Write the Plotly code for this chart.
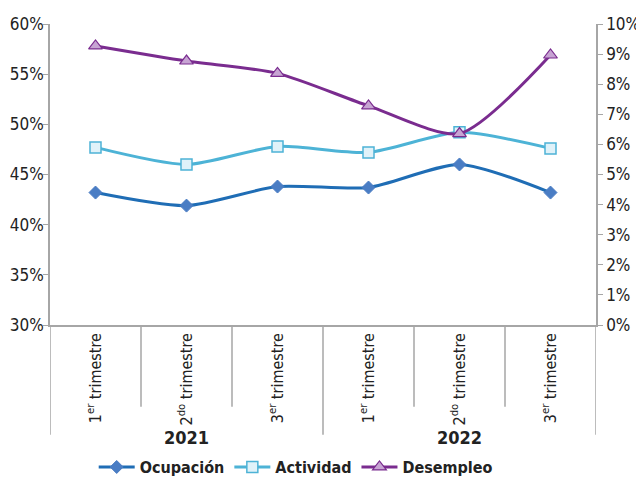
import plotly.graph_objects as go

# Datos
trimestres = ["1<sup>er</sup> trimestre", "2<sup>do</sup> trimestre", "3<sup>er</sup> trimestre",
              "1<sup>er</sup> trimestre", "2<sup>do</sup> trimestre", "3<sup>er</sup> trimestre"]
anios = ["2021", "2022"]
ocupacion = [43.2, 41.9, 43.8, 43.7, 46.0, 43.2]
actividad = [47.7, 46.0, 47.8, 47.2, 49.2, 47.6]
desempleo = [9.27, 8.77, 8.36, 7.28, 6.36, 8.97]

FONT = "DejaVu Sans Condensed, Liberation Sans Narrow, Arial Narrow, sans-serif"
AXIS = "#a6a6a6"
x = list(range(len(trimestres)))

fig = go.Figure()

fig.add_trace(go.Scatter(
    x=x, y=ocupacion, name="Ocupación", mode="lines+markers",
    line=dict(color="#1f6db5", width=3, shape="spline", smoothing=0.7),
    marker=dict(symbol="diamond", size=10, color="#4a7dc4", line=dict(color="#4a7dc4", width=1))
))
fig.add_trace(go.Scatter(
    x=x, y=actividad, name="Actividad", mode="lines+markers",
    line=dict(color="#4db3d6", width=3, shape="spline", smoothing=0.7),
    marker=dict(symbol="square", size=11, color="#e0f2f9", line=dict(color="#4db3d6", width=1.5))
))
fig.add_trace(go.Scatter(
    x=x, y=desempleo, name="Desempleo", mode="lines+markers", yaxis="y2",
    line=dict(color="#7a2c8f", width=3, shape="spline", smoothing=0.7),
    marker=dict(symbol="triangle-up", size=12, color="#c7a4d3", line=dict(color="#7a2c8f", width=1.2))
))

# divisores del eje de categorías
shapes = []
n = len(trimestres)
for i in range(n + 1):
    largo = i % 3 == 0
    shapes.append(dict(type="line", xref="x", yref="paper", x0=i - 0.5, x1=i - 0.5,
                       y0=0, y1=-0.365 if largo else -0.272,
                       line=dict(color=AXIS, width=1.5)))

annotations = []
for j, a in enumerate(anios):
    annotations.append(dict(text="<b>" + a + "</b>", x=j * 3 + 1, xref="x", y=-0.375, yref="paper",
                            showarrow=False, yanchor="middle", font=dict(family=FONT, size=18, color="#222")))

# la página añade 8 px de margen al cuerpo
fig.update_layout(
    width=636, height=477,
    margin=dict(l=42, r=48, t=16, b=160, autoexpand=False),
    plot_bgcolor="white", paper_bgcolor="white",
    font=dict(family=FONT, size=17, color="#222"),
    showlegend=True,
    legend=dict(orientation="h", x=0.45, xanchor="center", y=-0.472, yanchor="middle",
                font=dict(family=FONT, size=16, color="#222", weight="bold"),
                itemwidth=36, tracegroupgap=0),
    xaxis=dict(tickvals=x, ticktext=trimestres, tickangle=-90, range=[-0.5, n - 0.5],
               showline=True, linecolor=AXIS, linewidth=1.5, ticks="", showgrid=False,
               zeroline=False, tickfont=dict(size=16), automargin=False),
    yaxis=dict(range=[30, 60], dtick=5, ticksuffix="%", showline=True, linecolor=AXIS, linewidth=1.5,
               ticks="outside", ticklen=5, tickcolor=AXIS, showgrid=False, zeroline=False,
               automargin=False, ticklabelstandoff=-4),
    yaxis2=dict(range=[0, 10], dtick=1, ticksuffix="%", overlaying="y", side="right",
                showline=True, linecolor=AXIS, linewidth=1.5, ticks="outside", ticklen=5,
                tickcolor=AXIS, showgrid=False, zeroline=False, automargin=False),
    shapes=shapes, annotations=annotations,
)

fig.write_html("out.html")
